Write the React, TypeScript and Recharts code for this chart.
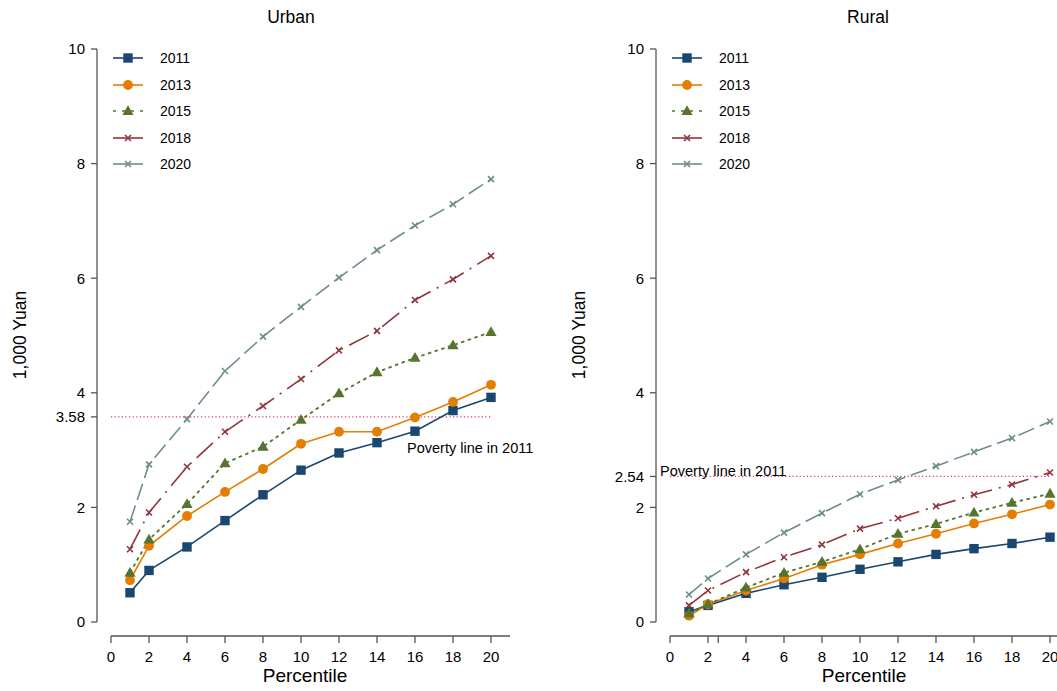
import React from 'react';
import { LineChart, Line, XAxis, YAxis, ReferenceLine } from 'recharts';

// percentile groups (x values)
const PERCENTILES = [1, 2, 4, 6, 8, 10, 12, 14, 16, 18, 20];

// urban, 1,000 yuan
const URBAN_2011 = [0.51, 0.9, 1.31, 1.77, 2.22, 2.65, 2.95, 3.13, 3.33, 3.69, 3.92];
const URBAN_2013 = [0.73, 1.33, 1.85, 2.27, 2.67, 3.11, 3.32, 3.32, 3.57, 3.84, 4.14];
const URBAN_2015 = [0.86, 1.44, 2.06, 2.77, 3.06, 3.53, 3.99, 4.36, 4.61, 4.83, 5.06];
const URBAN_2018 = [1.27, 1.91, 2.71, 3.32, 3.77, 4.24, 4.74, 5.08, 5.62, 5.98, 6.39];
const URBAN_2020 = [1.75, 2.75, 3.54, 4.38, 4.98, 5.5, 6.01, 6.49, 6.92, 7.29, 7.73];

// rural, 1,000 yuan
const RURAL_2011 = [0.18, 0.29, 0.5, 0.65, 0.78, 0.92, 1.05, 1.18, 1.28, 1.37, 1.48];
const RURAL_2013 = [0.11, 0.31, 0.55, 0.76, 1.0, 1.18, 1.37, 1.54, 1.72, 1.88, 2.05];
const RURAL_2015 = [0.15, 0.31, 0.6, 0.86, 1.05, 1.27, 1.54, 1.71, 1.91, 2.08, 2.24];
const RURAL_2018 = [0.29, 0.55, 0.87, 1.13, 1.35, 1.63, 1.81, 2.02, 2.22, 2.4, 2.61];
const RURAL_2020 = [0.48, 0.76, 1.18, 1.56, 1.9, 2.23, 2.48, 2.72, 2.97, 3.21, 3.5];

const URBAN_POVERTY = 3.58;
const RURAL_POVERTY = 2.54;

const X_TICKS = [0, 2, 4, 6, 8, 10, 12, 14, 16, 18, 20];
const Y_TICKS = [0, 2, 4, 6, 8, 10];

const FONT = '"Liberation Sans", Arial, sans-serif';

type Shape = 'square' | 'circle' | 'triangle' | 'cross';

const SERIES: { key: string; name: string; color: string; dash?: string; shape: Shape; width: number }[] = [
  { key: 'y2011', name: '2011', color: '#1a476f', shape: 'square', width: 1.6 },
  { key: 'y2013', name: '2013', color: '#e37e00', shape: 'circle', width: 1.6 },
  { key: 'y2015', name: '2015', color: '#55752f', dash: '3.5 3.5', shape: 'triangle', width: 1.8 },
  { key: 'y2018', name: '2018', color: '#90353b', dash: '22 7 2 7', shape: 'cross', width: 1.6 },
  { key: 'y2020', name: '2020', color: '#6e8e84', dash: '17 6', shape: 'cross', width: 1.6 },
];

const buildRows = (cols: number[][]) =>
  PERCENTILES.map((p, i) => ({
    p,
    y2011: cols[0][i],
    y2013: cols[1][i],
    y2015: cols[2][i],
    y2018: cols[3][i],
    y2020: cols[4][i],
  }));

const urbanData = buildRows([URBAN_2011, URBAN_2013, URBAN_2015, URBAN_2018, URBAN_2020]);
const ruralData = buildRows([RURAL_2011, RURAL_2013, RURAL_2015, RURAL_2018, RURAL_2020]);

// layout of one panel
const PANEL_W = 560;
const PANEL_H = 691;
const MARGIN = { top: 49, right: 50, bottom: 15, left: 37 };
const Y_AXIS_W = 60;
const X_AXIS_H = 40;
const AXIS_GAP = 14; // stata style offset between the two axes
const PLOT_W = PANEL_W - MARGIN.left - MARGIN.right - Y_AXIS_W;
const PLOT_H = PANEL_H - MARGIN.top - MARGIN.bottom - X_AXIS_H;

const Marker = ({ shape, color, cx, cy }: { shape: Shape; color: string; cx: number; cy: number }) => {
  if (shape === 'square') return <rect x={cx - 4.7} y={cy - 4.7} width={9.4} height={9.4} fill={color} />;
  if (shape === 'circle') return <circle cx={cx} cy={cy} r={4.9} fill={color} />;
  if (shape === 'triangle')
    return <polygon points={`${cx},${cy - 5.8} ${cx + 5.6},${cy + 4} ${cx - 5.6},${cy + 4}`} fill={color} />;
  return (
    <path
      d={`M${cx - 3},${cy - 3}L${cx + 3},${cy + 3}M${cx - 3},${cy + 3}L${cx + 3},${cy - 3}`}
      stroke={color}
      strokeWidth={1.6}
      fill="none"
    />
  );
};

const dotFor = (shape: Shape, color: string) => (props: any) => {
  const { cx, cy, index } = props;
  if (cx == null || cy == null) return <g key={`d-${index}`} />;
  return (
    <g key={`d-${index}`}>
      <Marker shape={shape} color={color} cx={cx} cy={cy} />
    </g>
  );
};

const XTick = (props: any) => {
  const { x, y, payload } = props;
  if (!X_TICKS.includes(payload.value)) return <g />;
  return (
    <text x={x} y={y} dy="0.71em" textAnchor="middle" fontSize={15} fill="#000" fontFamily={FONT}>
      {payload.value}
    </text>
  );
};

const LegendBox = ({ left, top }: { left: number; top: number }) => (
  <div style={{ position: 'absolute', left, top, fontFamily: FONT, fontSize: 14 }}>
    {SERIES.map((s) => (
      <div key={s.key} style={{ display: 'flex', alignItems: 'center', height: 26.5 }}>
        <svg width={32} height={14} style={{ marginRight: 16 }}>
          <line x1={1} y1={7} x2={31} y2={7} stroke={s.color} strokeWidth={1.6} strokeDasharray={s.shape === 'triangle' ? '3 6' : undefined} />
          <Marker shape={s.shape} color={s.color} cx={16} cy={7} />
        </svg>
        <span>{s.name}</span>
      </div>
    ))}
  </div>
);

const Panel = ({
  data,
  poverty,
  xTicks,
  left,
  title,
  titleCenter,
  labelPos,
}: {
  data: any[];
  poverty: number;
  xTicks: number[];
  left: number;
  title: string;
  titleCenter: number;
  labelPos: { left: number; top: number };
}) => {
  const plotLeft = MARGIN.left + Y_AXIS_W;
  const xTitleCenter = plotLeft + 208;
  return (
    <div style={{ position: 'absolute', left, top: 0, width: PANEL_W, height: PANEL_H }}>
      <LineChart width={PANEL_W} height={PANEL_H} data={data} margin={MARGIN}>
        <XAxis
          dataKey="p"
          type="number"
          domain={[0, 21]}
          ticks={xTicks}
          interval={0}
          padding={{ left: AXIS_GAP, right: 0 }}
          height={X_AXIS_H}
          tickSize={7}
          tickMargin={8}
          tick={<XTick />}
          axisLine={{ stroke: '#555', strokeWidth: 1.3, strokeDasharray: `0 ${AXIS_GAP} ${PLOT_W}` }}
          tickLine={{ stroke: '#555', strokeWidth: 1.3 }}
        />
        <YAxis
          type="number"
          domain={[0, 10]}
          ticks={[...Y_TICKS, poverty].sort((a, b) => a - b)}
          interval={0}
          padding={{ top: 0, bottom: AXIS_GAP }}
          width={Y_AXIS_W}
          tickSize={6}
          tickMargin={6}
          tick={{ fontSize: 15, fill: '#000', fontFamily: FONT }}
          axisLine={{ stroke: '#555', strokeWidth: 1.3, strokeDasharray: `${PLOT_H - AXIS_GAP} ${PLOT_H}` }}
          tickLine={{ stroke: '#555', strokeWidth: 1.3 }}
        />
        <ReferenceLine
          segment={[
            { x: 0, y: poverty },
            { x: 20, y: poverty },
          ]}
          stroke="#e0336b"
          strokeWidth={1.3}
          strokeDasharray="1.2 2.4"
          ifOverflow="visible"
        />
        {SERIES.map((s) => (
          <Line
            key={s.key}
            type="linear"
            dataKey={s.key}
            stroke={s.color}
            strokeWidth={s.width}
            strokeDasharray={s.dash}
            dot={dotFor(s.shape, s.color)}
            activeDot={false}
            isAnimationActive={false}
          />
        ))}
      </LineChart>
      <div
        style={{
          position: 'absolute',
          left: titleCenter - 100,
          width: 200,
          top: 7,
          textAlign: 'center',
          fontFamily: FONT,
          fontSize: 17.5,
        }}
      >
        {title}
      </div>
      <div
        style={{
          position: 'absolute',
          left: xTitleCenter - 100,
          width: 200,
          top: 665,
          textAlign: 'center',
          fontFamily: FONT,
          fontSize: 19,
        }}
      >
        Percentile
      </div>
      <div
        style={{
          position: 'absolute',
          left: 21 - 100,
          width: 200,
          top: 335 - 11,
          height: 22,
          textAlign: 'center',
          fontFamily: FONT,
          fontSize: 17.5,
          transform: 'rotate(-90deg)',
        }}
      >
        1,000 Yuan
      </div>
      <div style={{ position: 'absolute', ...labelPos, fontFamily: FONT, fontSize: 14.5, whiteSpace: 'nowrap' }}>
        Poverty line in 2011
      </div>
      <LegendBox left={plotLeft + 15} top={45} />
    </div>
  );
};

export default function App() {
  return (
    <div
      style={{
        position: 'absolute',
        left: 0,
        top: 0,
        width: 1057,
        height: 691,
        overflow: 'hidden',
        background: '#fff',
      }}
    >
      <Panel
        data={urbanData}
        poverty={URBAN_POVERTY}
        xTicks={X_TICKS}
        left={0}
        title="Urban"
        titleCenter={291}
        labelPos={{ left: 407, top: 440 }}
      />
      <Panel
        data={ruralData}
        poverty={RURAL_POVERTY}
        xTicks={[0, 2, RURAL_POVERTY, 4, 6, 8, 10, 12, 14, 16, 18, 20]}
        left={559}
        title="Rural"
        titleCenter={868 - 559}
        labelPos={{ left: 660 - 559, top: 463 }}
      />
    </div>
  );
}
